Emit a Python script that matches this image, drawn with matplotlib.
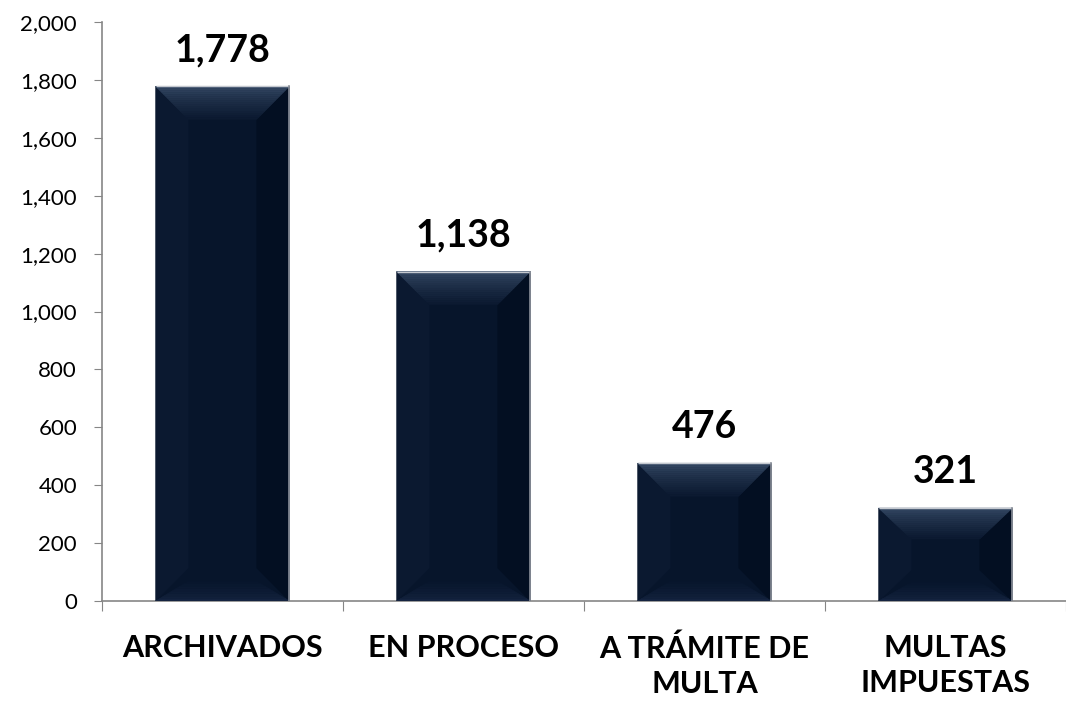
import matplotlib.pyplot as plt
from matplotlib.patches import Polygon
import matplotlib.colors as mcolors
import numpy as np

categories = ["ARCHIVADOS", "EN PROCESO", "A TRÁMITE DE\nMULTA", "MULTAS\nIMPUESTAS"]
values = [1778, 1138, 476, 321]
value_labels = ["1,778", "1,138", "476", "321"]
y_ticks = [0, 200, 400, 600, 800, 1000, 1200, 1400, 1600, 1800, 2000]

plt.rcParams['font.family'] = ['Lato', 'DejaVu Sans']

fig = plt.figure(figsize=(10.66, 7.07), dpi=100)
ax = fig.add_axes([102 / 1066, 1 - 601 / 707, 1 - 102 / 1066, (601 - 22) / 707])

x = np.arange(len(categories))
width = 0.555
ax.bar(x, values, width=width, color="#07152b", edgecolor="none", zorder=2)

ax.set_xlim(-0.5, 3.45)
ax.set_ylim(0, 2000)

# pixel -> data conversions for the bevel
px_x = 3.95 / 964
px_y = 2000 / 579


def blend(c1, c2, t):
    a = np.array(mcolors.to_rgb(c1))
    b = np.array(mcolors.to_rgb(c2))
    return tuple(a + (b - a) * t)


def add_poly(pts, color):
    ax.add_patch(Polygon(pts, closed=True, facecolor=color, edgecolor=color,
                         lw=0.4, zorder=3))


def trap_slices(l, r, y0, dir_y, bx, by, c_outer, c_inner, n=16, gamma=0.7):
    # band with slanted ends, graded from outer edge inward
    for i in range(n):
        t0, t1 = i / n, (i + 1) / n
        ya, yb = y0 + dir_y * by * t0, y0 + dir_y * by * t1
        pts = [(l + bx * t0, ya), (r - bx * t0, ya), (r - bx * t1, yb), (l + bx * t1, yb)]
        add_poly(pts, blend(c_outer, c_inner, t0 ** gamma))


bx = 33 * px_x
by = 33 * px_y
for xi, v in zip(x, values):
    l, r = xi - width / 2, xi + width / 2
    b = min(by, v / 3)
    # side bevels
    add_poly([(l, v), (l + bx, v - b), (l + bx, b), (l, 0)], "#0b1930")
    add_poly([(r, v), (r - bx, v - b), (r - bx, b), (r, 0)], "#030f22")
    # top and bottom bevels
    trap_slices(l, r, v, -1, bx, b, "#364a66", "#0a182f")
    trap_slices(l, r, 0, 1, bx, b * 0.6, "#14233f", "#07152b", n=8)
    ax.plot([l, r], [v, v], color="#c4c8cf", lw=1.0, zorder=4, solid_capstyle="butt")
    ax.plot([r, r], [0, v], color="#8a8f99", lw=1.2, zorder=4)

for xi, v, lab in zip(x, values, value_labels):
    ax.text(xi, v + 65, lab, ha="center", va="bottom", fontsize=27,
            fontweight="bold", color="black")

ax.set_yticks(y_ticks)
ax.set_yticklabels([f"{t:,}" for t in y_ticks], fontsize=16)
ax.set_xticks(np.arange(-0.5, 3.6, 1.0))
ax.set_xticklabels([])
ax.tick_params(axis="y", direction="out", length=6, color="#868686", pad=12)
ax.tick_params(axis="x", direction="out", length=7, color="#868686")

for xi, cat in zip(x, categories):
    ax.text(xi, -115, cat, ha="center", va="top", fontsize=22, fontweight="bold",
            linespacing=1.3)

for s in ("top", "right"):
    ax.spines[s].set_visible(False)
ax.spines["left"].set_color("#868686")
ax.spines["bottom"].set_color("#868686")
ax.spines["left"].set_linewidth(1.2)
ax.spines["bottom"].set_linewidth(1.2)

fig.savefig("out.png", dpi=100)
